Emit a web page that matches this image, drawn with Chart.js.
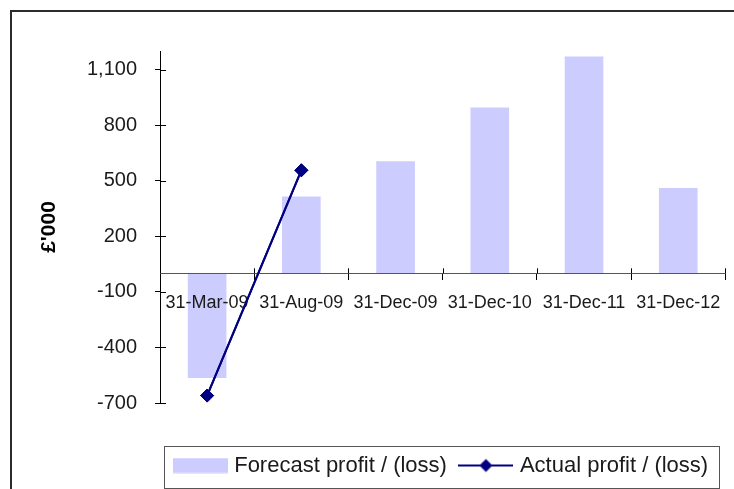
<!DOCTYPE html>
<html>
<head>
<meta charset="utf-8">
<script src="https://cdn.jsdelivr.net/npm/chart.js@4.4.1/dist/chart.umd.min.js"></script>
<style>
html, body { margin: 0; padding: 0; background: #fff; }
#wrap { width: 734px; height: 489px; }
</style>
</head>
<body>
<div id="wrap"><canvas id="profitChart" width="734" height="489"></canvas></div>
<script>
// values (£'000)
var periods = ['31-Mar-09', '31-Aug-09', '31-Dec-09', '31-Dec-10', '31-Dec-11', '31-Dec-12'];
var forecast = [-565, 415, 605, 895, 1170, 460];
var actual = [-660, 556, null, null, null, null];
var yTicks = [-700, -400, -100, 200, 500, 800, 1100];
var yMin = -700, yMax = 1200;

var barColour = '#CCCCFF';
var lineColour = '#000080';
var textColour = '#1a1a1a';

Chart.defaults.font.family = "'Liberation Sans', Arial, sans-serif";

// legend icons: plain swatch for the bars, line + diamond for the actuals
function makeIcon(kind) {
    var cv = document.createElement('canvas');
    cv.width = 55; cv.height = 16;
    var g = cv.getContext('2d');
    if (kind == 'bar') {
        g.fillStyle = barColour;
        g.fillRect(0, 0.5, 55, 15);
    } else {
        g.strokeStyle = lineColour;
        g.lineWidth = 2;
        g.beginPath(); g.moveTo(0, 8); g.lineTo(55, 8); g.stroke();
        g.fillStyle = lineColour;
        g.beginPath();
        g.moveTo(27.5, 1.5); g.lineTo(34, 8); g.lineTo(27.5, 14.5); g.lineTo(21, 8);
        g.closePath(); g.fill();
    }
    return cv;
}
var legendIcons = [makeIcon('bar'), makeIcon('line')];

var frame = {
    id: 'frame',
    beforeDraw: function(chart) {
        var c = chart.ctx;
        c.save();
        c.strokeStyle = '#2b2b2b';
        c.lineWidth = 2;
        c.beginPath();
        c.moveTo(11, chart.height); c.lineTo(11, 11); c.lineTo(chart.width, 11);
        c.stroke();
        c.restore();
    }
};

var extras = {
    id: 'extras',
    afterDraw: function(chart) {
        var c = chart.ctx, xs = chart.scales.x, ys = chart.scales.y;
        var zeroY = ys.getPixelForValue(0);
        c.save();
        c.strokeStyle = '#000';
        c.lineWidth = 1;
        c.beginPath();
        // inner half of the cross ticks
        ys.ticks.forEach(function(t) {
            var py = Math.round(ys.getPixelForValue(t.value)) + 0.5;
            c.moveTo(xs.left, py); c.lineTo(xs.left + 6, py);
        });
        for (var i = 0; i <= periods.length; i++) {
            var px = Math.round(xs.getPixelForValue(i - 0.5)) + 0.5;
            c.moveTo(px, zeroY - 5); c.lineTo(px, zeroY);
        }
        c.stroke();
        c.restore();

        // actual line goes over the axis labels
        chart.getDatasetMeta(1).controller.draw();

        // legend frame
        var hb = chart.legend.legendHitBoxes;
        if (hb && hb.length) {
            var l = hb[0].left, r = hb[hb.length - 1].left + hb[hb.length - 1].width;
            var mid = hb[0].top + hb[0].height / 2;
            c.save();
            c.strokeStyle = '#555';
            c.lineWidth = 1;
            c.strokeRect(Math.round(l - 13.5) + 0.5, Math.round(mid - 20) + 0.5, Math.round(r - l + 24.5), 42);
            c.restore();
        }
    }
};

var chart = new Chart(document.getElementById('profitChart'), {
    data: {
        labels: periods,
        datasets: [{
            type: 'bar',
            label: 'Forecast profit / (loss)',
            data: forecast,
            backgroundColor: barColour,
            borderWidth: 0,
            barPercentage: 0.41,
            categoryPercentage: 1,
            order: 2
        }, {
            type: 'line',
            label: 'Actual profit / (loss)',
            data: actual,
            borderColor: lineColour,
            borderWidth: 2,
            tension: 0,
            spanGaps: false,
            pointStyle: 'rectRot',
            pointRadius: 6.5,
            pointBackgroundColor: lineColour,
            pointBorderColor: lineColour,
            pointBorderWidth: 1,
            order: 1
        }]
    },
    options: {
        responsive: false,
        animation: false,
        events: [],
        layout: { padding: { top: 51, right: 8, bottom: 2.5, left: 0 } },
        scales: {
            x: {
                position: { y: 0 },
                offset: true,
                grid: { drawOnChartArea: false, drawTicks: true, tickLength: 6, color: '#000', offset: true },
                border: { color: '#555', width: 1, z: 1 },
                ticks: { color: textColour, font: { size: 18 }, padding: 13, maxRotation: 0, autoSkip: false, z: 1 }
            },
            y: {
                min: yMin,
                max: yMax,
                afterBuildTicks: function(s) {
                    s.ticks = yTicks.map(function(v) { return { value: v }; });
                },
                afterFit: function(s) { s.width = 160; },
                grid: { drawOnChartArea: false, tickLength: 5, color: '#000' },
                border: { color: '#000', width: 1 },
                ticks: {
                    color: textColour,
                    font: { size: 20 },
                    padding: 18,
                    callback: function(v) { return v.toLocaleString('en-GB'); }
                },
                title: {
                    display: true,
                    text: "£'000",
                    color: '#000',
                    font: { size: 21, weight: 'bold' },
                    padding: { top: 37, bottom: 0 }
                }
            }
        },
        plugins: {
            tooltip: { enabled: false },
            legend: {
                position: 'bottom',
                fullSize: false,
                title: { display: true, text: '', padding: { top: 25.5, bottom: 0 }, font: { size: 10, lineHeight: 1 } },
                labels: {
                    usePointStyle: true,
                    pointStyleWidth: 46,
                    padding: 16,
                    color: textColour,
                    font: { size: 22 },
                    generateLabels: function(ch) {
                        return ch.data.datasets.map(function(ds, i) {
                            return {
                                text: ds.label,
                                pointStyle: legendIcons[i],
                                datasetIndex: i,
                                hidden: false,
                                lineWidth: 0,
                                fillStyle: 'transparent',
                                strokeStyle: 'transparent',
                                fontColor: textColour
                            };
                        });
                    }
                }
            }
        }
    },
    plugins: [frame, extras]
});
</script>
</body>
</html>
